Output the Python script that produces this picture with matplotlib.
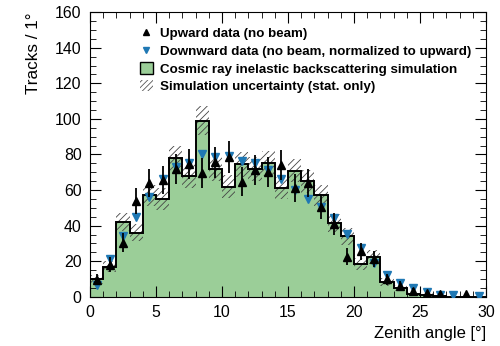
import numpy as np
import matplotlib
matplotlib.use("Agg")
import matplotlib.pyplot as plt
from matplotlib.lines import Line2D
from matplotlib.patches import Patch
from matplotlib.ticker import MultipleLocator

plt.rcParams['font.family'] = ['Liberation Sans', 'DejaVu Sans']
plt.rcParams['hatch.linewidth'] = 0.6

# Zenith angle bins, 1 degree wide
edges = np.arange(0, 31, 1)

# Simulation (cosmic ray inelastic backscattering) and its stat. uncertainty
sim = [10, 17, 42, 36, 57, 55, 78, 68, 99, 72, 62, 74.5, 72, 75, 61,
       71, 65, 57, 41.5, 34, 18.4, 22.3, 8.2, 4.9, 1.7, 1.1, 0.3, 0.2, 0.1, 0]
sim_unc = [2.5, 3.3, 5, 4.8, 6, 6, 7, 6.6, 8, 6.8, 6.3, 6.9, 6.8, 6.9, 6.2,
           6.7, 6.4, 6, 5.1, 4.7, 3.4, 3.8, 2.3, 1.8, 1, 0.8, 0.4, 0.3, 0.2, 0]

# Upward data (no beam)
up = [9.6, 18, 30.5, 54, 64, 65.7, 72, 74.7, 69.5, 75.5, 78.5, 64.8, 71.3, 70.4, 74,
      61, 63.9, 50.7, 41, 22.6, 25.5, 21.2, 9.9, 6.2, 3.4, 2, 1.5, np.nan, 1.5, np.nan]
up_err = [3.2, 4.2, 5.5, 7.3, 8, 8.1, 8.5, 8.6, 8.3, 8.7, 8.9, 8, 8.4, 8.4, 8.6,
          7.8, 8, 7.1, 6.4, 4.8, 5, 4.6, 3.1, 2.5, 1.8, 1.4, 1.2, 0, 1.2, 0]

# Downward data (no beam, normalized to upward)
down = [6.7, 21, 34, 45, 56, 66.5, 73, 75.4, 80, 78.8, 79.2, 76.6, 75, 71.3, 66,
        60, 54.9, 50.4, 44.2, 35.2, 27.5, 19, 12.4, 7.7, 4.9, 3, 1, 1.1, np.nan, 0.3]

centers = (edges[:-1] + edges[1:]) / 2
sim = np.array(sim)
sim_unc = np.array(sim_unc)

fig = plt.figure(figsize=(5, 3.46), dpi=100)
ax = fig.add_axes([0.18, 0.142, 0.792, 0.823])

green = '#9bce98'
ax.stairs(sim, edges, fill=True, color=green, zorder=1)
ax.bar(centers, 2 * sim_unc, bottom=sim - sim_unc, width=1.0, fill=False,
       hatch='/////', edgecolor='#444444', linewidth=0, zorder=2)
ax.stairs(sim, edges, color='black', linewidth=1.4, zorder=3)

ax.plot(centers, down, 'v', color='#1f78b4', markersize=5.5, zorder=4)
ax.errorbar(centers, up, yerr=up_err, fmt='^', color='black', markersize=5.5,
            elinewidth=1.3, capsize=0, zorder=5)

ax.set_xlim(0, 30)
ax.set_ylim(0, 160)
ax.xaxis.set_major_locator(MultipleLocator(5))
ax.xaxis.set_minor_locator(MultipleLocator(1))
ax.yaxis.set_major_locator(MultipleLocator(20))
ax.yaxis.set_minor_locator(MultipleLocator(5))
ax.tick_params(which='both', direction='in', top=True, right=True, labelsize=11.4)
ax.tick_params(which='major', length=8, pad=6)
ax.tick_params(which='minor', length=4)

ax.set_xlabel('Zenith angle [°]', loc='right', fontsize=12)
ax.set_ylabel('Tracks / 1°', loc='top', fontsize=12.3, labelpad=10)

handles = [
    Line2D([], [], marker='^', color='black', linestyle='none', markersize=5),
    Line2D([], [], marker='v', color='#1f78b4', linestyle='none', markersize=5),
    Patch(facecolor=green, edgecolor='black', linewidth=1),
    Patch(facecolor='none', edgecolor='#555555', hatch='//////', linewidth=0),
]
labels = [
    'Upward data (no beam)',
    'Downward data (no beam, normalized to upward)',
    'Cosmic ray inelastic backscattering simulation',
    'Simulation uncertainty (stat. only)',
]
ax.legend(handles, labels, loc='upper left', bbox_to_anchor=(0.095, 0.99),
          frameon=False, prop={'weight': 'bold', 'size': 9.6},
          handlelength=1.0, handleheight=1.0, handletextpad=0.5, labelspacing=0.3)

fig.savefig('out.png', dpi=100)
